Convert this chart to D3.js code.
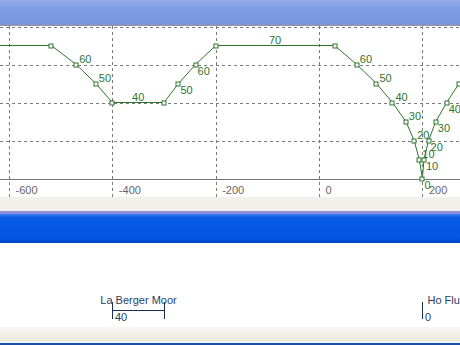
<!DOCTYPE html>
<html><head><meta charset="utf-8">
<script src="https://cdn.jsdelivr.net/npm/d3@7"></script>
<style>body{margin:0;background:#fff;overflow:hidden}svg{display:block}</style>
</head><body>
<svg id="c" width="460" height="345"></svg>
<script>
// data
const distances = [-900, -518, -470, -432, -400, -300, -272, -239, -200, 30, 73, 111, 142, 168, 184, 194, 200, 203, 212, 226, 247, 271, 295, 318, 600];
const speeds    = [70, 70, 60, 50, 40, 40, 50, 60, 70, 70, 60, 50, 40, 30, 20, 10, 0, 10, 20, 30, 40, 50, 60, 70, 70];
const xTicks = [-600, -400, -200, 0, 200];
const yTicks = [20, 40, 60, 80];
const stationNames = ["La Berger Moor", "Ho Flu"];
const stationStart = [-400, 200];
const stationEnd   = [-300, 200];
const stationSpeed = [40, 0];

const svg = d3.select("#c");
const W = 460;
const x = d3.scaleLinear().domain([-600, 200]).range([9, 422.4]);
const y = d3.scaleLinear().domain([0, 80]).range([178.5, 26.5]);
const green = "#2e742e";
const font = "'Liberation Sans', Arial, sans-serif";

svg.append("rect").attr("x",0).attr("y",0).attr("width",W).attr("height",345).attr("fill","#fff");

// grid
svg.append("g").selectAll("line").data(yTicks).join("line")
  .attr("x1",0).attr("x2",W).attr("y1",d=>Math.round(y(d))+0.5).attr("y2",d=>Math.round(y(d))+0.5)
  .attr("stroke","#7a7a7a").attr("stroke-dasharray","3,3");
svg.append("g").selectAll("line").data(xTicks).join("line")
  .attr("x1",d=>Math.round(x(d))+0.5).attr("x2",d=>Math.round(x(d))+0.5).attr("y1",26).attr("y2",197)
  .attr("stroke","#7a7a7a").attr("stroke-dasharray","3,3");

// x axis
const axis = d3.axisBottom(x).tickValues(xTicks).tickSize(0).tickFormat(d => String(d));
const ga = svg.append("g").attr("transform",`translate(0,${Math.round(y(0))+0.5})`).call(axis);
ga.select(".domain").remove();
ga.append("line").attr("x1",0).attr("x2",W).attr("stroke","#777");
ga.selectAll(".tick text").attr("text-anchor","start").attr("x",6).attr("y",14).attr("dy",0)
  .attr("fill","#666").attr("font-family",font).attr("font-size",11);

// speed line
const pts = distances.map((d,i)=>({d, s:speeds[i], i}));
const line = d3.line().x(p=>x(p.d)).y(p=>y(p.s));
svg.append("path").datum(pts).attr("d",line).attr("fill","none").attr("stroke",green).attr("stroke-width",1);

svg.append("g").selectAll("rect").data(pts).join("rect")
  .attr("x",p=>Math.round(x(p.d))-2).attr("y",p=>Math.round(y(p.s))-2).attr("width",4).attr("height",4)
  .attr("fill","#fff").attr("stroke",green).attr("stroke-width",1);

// labels
const labels = [];
pts.forEach((p,i)=>{
  const prev = speeds[i-1], next = speeds[i+1];
  if (next !== undefined && next === p.s) {
    labels.push({tx:x((p.d+distances[i+1])/2), ty:y(p.s)-1.5, anchor:"middle", t:p.s});
  }
  if (prev === p.s || next === p.s || prev === undefined || next === undefined) return;
  if (next > p.s) labels.push({tx:x(p.d)+2, ty:y(p.s)+10, anchor:"start", t:p.s});
  else labels.push({tx:x(p.d)+3, ty:y(p.s)-1.5, anchor:"start", t:p.s});
});
svg.append("g").selectAll("text").data(labels.filter(l => l.tx > 0 && l.tx < W)).join("text")
  .attr("x",l=>l.tx).attr("y",l=>l.ty).attr("text-anchor",l=>l.anchor)
  .attr("fill",green).attr("font-family",font).attr("font-size",11).text(l=>l.t);

// window chrome: top bar
const defs = svg.append("defs");
const g1 = defs.append("linearGradient").attr("id","g1").attr("x1",0).attr("x2",0).attr("y1",0).attr("y2",1);
g1.append("stop").attr("offset","0").attr("stop-color","#93adec");
g1.append("stop").attr("offset","0.4").attr("stop-color","#7d9ae2");
g1.append("stop").attr("offset","1").attr("stop-color","#7894de");
svg.append("rect").attr("x",0).attr("y",0).attr("width",W).attr("height",24).attr("fill","url(#g1)");
svg.append("rect").attr("x",0).attr("y",24).attr("width",W).attr("height",2).attr("fill","#8a94b8");

// gray band + blue bar
svg.append("rect").attr("x",0).attr("y",197).attr("width",W).attr("height",14).attr("fill","#f1f0ea");
const g2 = defs.append("linearGradient").attr("id","g2").attr("x1",0).attr("x2",0).attr("y1",0).attr("y2",1);
g2.append("stop").attr("offset","0").attr("stop-color","#3b7cf0");
g2.append("stop").attr("offset","0.12").attr("stop-color","#0a5ce8");
g2.append("stop").attr("offset","0.85").attr("stop-color","#0055e2");
g2.append("stop").attr("offset","1").attr("stop-color","#0044c4");
svg.append("rect").attr("x",0).attr("y",211).attr("width",W).attr("height",3).attr("fill","#8c90dc");
svg.append("rect").attr("x",0).attr("y",214).attr("width",W).attr("height",29).attr("fill","url(#g2)");

// bottom chrome
const g3 = defs.append("linearGradient").attr("id","g3").attr("x1",0).attr("x2",0).attr("y1",0).attr("y2",1);
g3.append("stop").attr("offset","0").attr("stop-color","#f7f6f1");
g3.append("stop").attr("offset","1").attr("stop-color","#ebe9dd");
svg.append("rect").attr("x",0).attr("y",327).attr("width",W).attr("height",14).attr("fill","url(#g3)");
svg.append("rect").attr("x",0).attr("y",341).attr("width",W).attr("height",2).attr("fill","#eef3fb");
svg.append("rect").attr("x",0).attr("y",343).attr("width",W).attr("height",2).attr("fill","#1d4fa6");

// station track
const navy = "#1b2f52";
const st = stationNames.map((n,i)=>({n, a:x(stationStart[i]), b:x(stationEnd[i]), s:stationSpeed[i]}));
const gs = svg.append("g");
st.forEach(s=>{
  const a = Math.round(s.a)+0.5, b = Math.round(s.b)+0.5;
  gs.append("line").attr("x1",a).attr("x2",a).attr("y1",302).attr("y2",319).attr("stroke",navy);
  if (b !== a) {
    gs.append("line").attr("x1",b).attr("x2",b).attr("y1",302).attr("y2",319).attr("stroke",navy);
    gs.append("line").attr("x1",a).attr("x2",b).attr("y1",310.5).attr("y2",310.5).attr("stroke",navy);
    gs.append("text").attr("x",(a+b)/2).attr("y",304).attr("text-anchor","middle")
      .attr("fill","#2b3f62").attr("font-family",font).attr("font-size",11).text(s.n);
  } else {
    gs.append("text").attr("x",a+5).attr("y",304).attr("text-anchor","start")
      .attr("fill","#2b3f62").attr("font-family",font).attr("font-size",11).text(s.n);
  }
  gs.append("text").attr("x",a+2.5).attr("y",320.5).attr("fill","#2b3f62")
    .attr("font-family",font).attr("font-size",11).text(s.s);
});
</script>
</body></html>
